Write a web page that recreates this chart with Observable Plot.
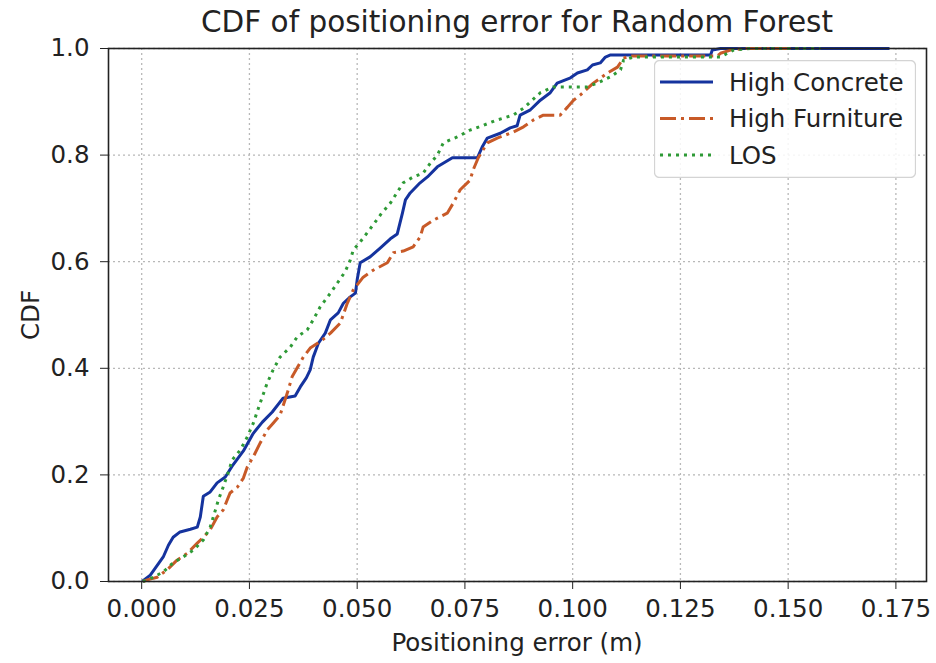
<!DOCTYPE html>
<html><head><meta charset="utf-8">
<script src="https://cdn.jsdelivr.net/npm/d3@7"></script>
<script src="https://cdn.jsdelivr.net/npm/@observablehq/plot@0.6"></script>
<style>
body{margin:0;background:#fff;}
#wrap{position:relative;width:936px;height:663px;font-family:"DejaVu Sans",sans-serif;color:#222;overflow:hidden;}
.lbl{position:absolute;white-space:nowrap;line-height:1;transform:translate(-50%,-50%);}
#legend{position:absolute;left:654px;top:60px;}
</style></head><body><div id="wrap"></div>
<script>
const chartTitle = "CDF of positioning error for Random Forest";
const xLabel = "Positioning error (m)";
const yLabel = "CDF";
const seriesNames = ["High Concrete", "High Furniture", "LOS"];
const seriesColors = ["#15339e", "#c85a28", "#2e9a36"];
const xTicks = [0, 0.025, 0.05, 0.075, 0.1, 0.125, 0.15, 0.175];
const yTicks = [0, 0.2, 0.4, 0.6, 0.8, 1.0];

// [positioning error (m), CDF]
const highConcrete = [[0.0001,0],[0.0020,0.012],[0.0050,0.046],[0.0062,0.068],[0.0073,0.083],[0.0089,0.093],[0.0113,0.098],[0.0129,0.102],[0.0136,0.121],[0.0143,0.160],[0.0159,0.168],[0.0175,0.185],[0.0194,0.196],[0.0212,0.219],[0.0236,0.245],[0.0259,0.278],[0.0280,0.299],[0.0303,0.318],[0.0328,0.344],[0.0356,0.348],[0.0368,0.365],[0.0382,0.382],[0.0391,0.397],[0.0398,0.421],[0.0410,0.447],[0.0426,0.466],[0.0438,0.491],[0.0456,0.504],[0.0468,0.522],[0.0484,0.534],[0.0496,0.541],[0.0500,0.566],[0.0507,0.598],[0.0530,0.609],[0.0554,0.626],[0.0577,0.643],[0.0593,0.652],[0.0605,0.691],[0.0612,0.716],[0.0623,0.729],[0.0646,0.748],[0.0663,0.759],[0.0686,0.778],[0.0721,0.795],[0.0779,0.795],[0.0790,0.815],[0.0802,0.832],[0.0832,0.841],[0.0855,0.851],[0.0871,0.855],[0.0878,0.875],[0.0902,0.885],[0.0925,0.903],[0.0948,0.917],[0.0964,0.935],[0.0995,0.945],[0.1011,0.954],[0.1034,0.960],[0.1046,0.969],[0.1064,0.973],[0.1076,0.984],[0.1088,0.988],[0.1320,0.988],[0.1324,0.997],[0.1343,1.0],[0.1735,1.0]];
const highFurniture = [[0.0003,0],[0.0013,0.003],[0.0036,0.008],[0.0059,0.022],[0.0082,0.040],[0.0106,0.053],[0.0129,0.072],[0.0143,0.083],[0.0159,0.097],[0.0175,0.121],[0.0189,0.134],[0.0205,0.166],[0.0222,0.177],[0.0236,0.194],[0.0245,0.215],[0.0259,0.234],[0.0275,0.260],[0.0291,0.284],[0.0305,0.297],[0.0321,0.312],[0.0338,0.354],[0.0349,0.384],[0.0375,0.421],[0.0391,0.438],[0.0419,0.453],[0.0438,0.466],[0.0461,0.485],[0.0477,0.522],[0.0491,0.547],[0.0514,0.571],[0.0537,0.584],[0.0570,0.598],[0.0584,0.617],[0.0607,0.620],[0.0630,0.628],[0.0646,0.646],[0.0653,0.665],[0.0677,0.678],[0.0709,0.691],[0.0723,0.710],[0.0739,0.735],[0.0762,0.753],[0.0769,0.772],[0.0781,0.795],[0.0802,0.823],[0.0825,0.832],[0.0862,0.843],[0.0886,0.853],[0.0909,0.866],[0.0932,0.875],[0.0971,0.875],[0.0988,0.890],[0.1002,0.903],[0.1018,0.913],[0.1048,0.935],[0.1081,0.954],[0.1104,0.965],[0.1118,0.982],[0.1134,0.986],[0.1336,0.986],[0.1343,0.991],[0.1366,0.997],[0.1401,1.0],[0.1528,1.0]];
const los = [[0.0003,0],[0.0027,0.008],[0.0050,0.018],[0.0073,0.035],[0.0096,0.046],[0.0120,0.059],[0.0143,0.078],[0.0159,0.102],[0.0171,0.134],[0.0178,0.153],[0.0189,0.177],[0.0201,0.205],[0.0210,0.228],[0.0229,0.247],[0.0245,0.271],[0.0259,0.297],[0.0275,0.335],[0.0291,0.372],[0.0305,0.397],[0.0321,0.421],[0.0345,0.440],[0.0361,0.459],[0.0384,0.472],[0.0398,0.491],[0.0414,0.515],[0.0438,0.541],[0.0454,0.560],[0.0472,0.581],[0.0484,0.603],[0.0491,0.622],[0.0507,0.637],[0.0523,0.654],[0.0537,0.669],[0.0554,0.688],[0.0577,0.710],[0.0607,0.748],[0.0630,0.759],[0.0653,0.766],[0.0670,0.785],[0.0686,0.800],[0.0700,0.823],[0.0732,0.834],[0.0762,0.847],[0.0793,0.856],[0.0825,0.866],[0.0862,0.875],[0.0886,0.888],[0.0902,0.900],[0.0925,0.917],[0.0955,0.928],[0.1034,0.928],[0.1057,0.935],[0.1088,0.947],[0.1111,0.960],[0.1118,0.978],[0.1141,0.984],[0.1343,0.984],[0.1373,0.997],[0.1413,1.0],[0.1575,1.0]];

const seriesData = [highConcrete, highFurniture, los];
const dashes = [null, "16,5,3,5", "3,5"];

const wrap = document.getElementById("wrap");
const lineMarks = seriesData.map((pts, i) => Plot.line(pts, {
  x: d => d[0], y: d => d[1], stroke: seriesColors[i], strokeWidth: 3,
  strokeDasharray: dashes[i], strokeLinecap: "butt", strokeLinejoin: "round"
}));

const chart = Plot.plot({
  width: 936, height: 663,
  marginTop: 48, marginBottom: 82, marginLeft: 108, marginRight: 10,
  style: {fontFamily: "DejaVu Sans", fontSize: "24.5px", color: "#222", background: "transparent", overflow: "visible"},
  x: {domain: [-0.0077, 0.1821], ticks: xTicks, tickFormat: d3.format(".3f"), tickSize: 8, tickPadding: 10, label: null},
  y: {domain: [0, 1], ticks: yTicks, tickFormat: d3.format(".1f"), tickSize: 8, tickPadding: 11, label: null},
  marks: [
    Plot.ruleX(xTicks, {x: d => d, stroke: "#b8b8b8", strokeWidth: 1.3, strokeDasharray: "2,3"}),
    Plot.ruleY(yTicks, {y: d => d, stroke: "#b8b8b8", strokeWidth: 1.3, strokeDasharray: "2,3"}),
    ...lineMarks,
    Plot.frame({stroke: "#222", strokeWidth: 1.6})
  ]
});
wrap.appendChild(chart);

function addLabel(text, x, y, size, rotate) {
  const d = document.createElement("div");
  d.className = "lbl";
  d.textContent = text;
  d.style.left = x + "px";
  d.style.top = y + "px";
  d.style.fontSize = size + "px";
  if (rotate) d.style.transform = "translate(-50%,-50%) rotate(-90deg)";
  wrap.appendChild(d);
}
addLabel(chartTitle, 517, 23, 29.5, false);
addLabel(xLabel, 517, 643, 24.5, false);
addLabel(yLabel, 31, 315, 24.5, true);

// legend
const lg = d3.select(wrap).append("svg").attr("id", "legend").attr("width", 262).attr("height", 118);
lg.append("rect").attr("x", 0.5).attr("y", 0.5).attr("width", 261).attr("height", 117).attr("rx", 5)
  .attr("fill", "white").attr("fill-opacity", 0.85).attr("stroke", "#d4d4d4").attr("stroke-width", 1.3);
seriesNames.forEach((name, i) => {
  const cy = 22 + i * 36.5;
  lg.append("line").attr("x1", 6).attr("x2", 59).attr("y1", cy).attr("y2", cy)
    .attr("stroke", seriesColors[i]).attr("stroke-width", 3)
    .attr("stroke-dasharray", dashes[i]).attr("stroke-linecap", "butt");
  lg.append("text").attr("x", 75).attr("y", cy).attr("dy", "0.36em")
    .attr("font-family", "DejaVu Sans").attr("font-size", 24.5).attr("fill", "#222").text(name);
});
</script>
</body></html>
